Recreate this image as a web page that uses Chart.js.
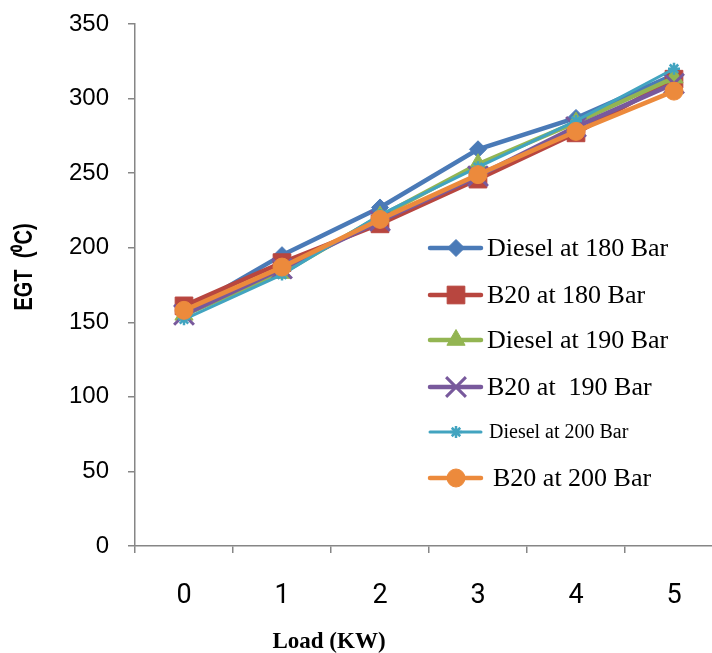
<!DOCTYPE html>
<html>
<head>
<meta charset="utf-8">
<script src="https://cdn.jsdelivr.net/npm/chart.js@4/dist/chart.umd.min.js"></script>
<style>
html,body{margin:0;padding:0;background:#fff;overflow:hidden;width:712px;height:653px;}
#wrap{position:absolute;left:0;top:0;width:740px;height:653px;}
</style>
</head>
<body>
<div id="wrap"><canvas id="c" width="740" height="653"></canvas></div>
<script>
const categories = ['0','1','2','3','4','5'];
const yTicks = [0,50,100,150,200,250,300,350];
const labels = ['Diesel at 180 Bar','B20 at 180 Bar','Diesel at 190 Bar','B20 at  190 Bar','Diesel at 200 Bar','B20 at 200 Bar'];
const diesel180 = [157,195,227,266,287,316];
const b20_180   = [161,190,216,246,277,313];
const diesel190 = [155,183,221,256,284,314];
const b20_190   = [155,186,218,248,281,310];
const diesel200 = [152,182,222,254,285,320];
const b20_200   = [158,187,219,249,278,305];

const series = [diesel180,b20_180,diesel190,b20_190,diesel200,b20_200];
const colors = ['#4A7AB7','#B8463F','#93B552','#78599C','#42A4C0','#EC8A3C'];
const styles = ['rectRot','rect','triangle','crossRot','star','circle'];
const radii  = [8.5,12.5,10.5,14,6,9];
const widths = [4.5,4.5,4.5,4.5,3,4.5];
const pbw    = [1,1,1,3,2.5,1];

const datasets = series.map((d,i)=>({
  label: labels[i],
  data: d,
  borderColor: colors[i],
  backgroundColor: colors[i],
  borderWidth: widths[i],
  pointStyle: styles[i],
  pointRadius: radii[i],
  pointHoverRadius: radii[i],
  pointBorderWidth: pbw[i],
  pointBorderColor: colors[i],
  pointBackgroundColor: colors[i],
  tension: 0,
  order: 5 - i,
  clip: false
}));

function drawMarker(ctx, style, r, x, y, color, bw){
  ctx.save();
  ctx.fillStyle = color; ctx.strokeStyle = color; ctx.lineWidth = bw;
  ctx.beginPath();
  if (style==='rectRot'){
    ctx.moveTo(x, y-r); ctx.lineTo(x+r, y); ctx.lineTo(x, y+r); ctx.lineTo(x-r, y); ctx.closePath();
    ctx.fill(); ctx.stroke();
  } else if (style==='rect'){
    const s = Math.SQRT1_2*r; ctx.rect(x-s,y-s,2*s,2*s); ctx.fill(); ctx.stroke();
  } else if (style==='triangle'){
    for (let k=0;k<3;k++){ const a = k*2*Math.PI/3; const px=x+Math.sin(a)*r, py=y-Math.cos(a)*r; if(k===0)ctx.moveTo(px,py); else ctx.lineTo(px,py);} ctx.closePath(); ctx.fill(); ctx.stroke();
  } else if (style==='crossRot'){
    const s = Math.SQRT1_2*r; ctx.moveTo(x-s,y-s); ctx.lineTo(x+s,y+s); ctx.moveTo(x+s,y-s); ctx.lineTo(x-s,y+s); ctx.stroke();
  } else if (style==='star'){
    const s = Math.SQRT1_2*r; ctx.moveTo(x-s,y-s); ctx.lineTo(x+s,y+s); ctx.moveTo(x+s,y-s); ctx.lineTo(x-s,y+s);
    ctx.moveTo(x,y-r); ctx.lineTo(x,y+r); ctx.moveTo(x-r,y); ctx.lineTo(x+r,y); ctx.stroke();
  } else {
    ctx.arc(x,y,r,0,Math.PI*2); ctx.fill(); ctx.stroke();
  }
  ctx.restore();
}

const legendPlugin = {
  id:'customLegend',
  afterDraw(chart){
    const ctx = chart.ctx;
    const rowsY = [248,295,340,387,432,478];
    const textX = [487,487,487,487,489,493];
    const fs = [26,26,26,26,20,26];
    chart.data.datasets.forEach((ds,i)=>{
      const y = rowsY[i];
      ctx.save();
      ctx.strokeStyle = ds.borderColor; ctx.lineWidth = ds.borderWidth; ctx.lineCap='round';
      ctx.beginPath(); ctx.moveTo(430,y); ctx.lineTo(481,y); ctx.stroke();
      ctx.restore();
      drawMarker(ctx, ds.pointStyle, ds.pointRadius, 456, y, ds.borderColor, ds.pointBorderWidth);
      ctx.save();
      ctx.fillStyle='#000'; ctx.font = fs[i]+'px "Liberation Serif", "Times New Roman", serif';
      ctx.textBaseline='middle'; ctx.textAlign='left';
      ctx.fillText(ds.label.trim(), textX[i], y+1);
      ctx.restore();
    });
    // axis titles
    ctx.save();
    ctx.fillStyle='#000';
    ctx.font='bold 23px "Liberation Serif", "Times New Roman", serif';
    ctx.textAlign='center'; ctx.textBaseline='middle';
    ctx.fillText('Load (KW)', 329, 642);
    ctx.translate(25, 267); ctx.rotate(-Math.PI/2); ctx.scale(0.8, 1);
    ctx.font='bold 25px "Liberation Sans", Arial, sans-serif';
    ctx.fillText('EGT  (\u2070C)', 0, 0);
    ctx.restore();
  }
};

new Chart(document.getElementById('c'), {
  type:'line',
  data:{ labels: categories, datasets },
  options:{
    responsive:false,
    animation:false,
    events:[],
    layout:{ padding:{ left:0, right:12, top:24, bottom:0 } },
    plugins:{ legend:{display:false}, tooltip:{enabled:false}, title:{display:false} },
    scales:{
      x:{
        type:'category',
        offset:true,
        grid:{ offset:true, drawOnChartArea:false, drawTicks:true, tickLength:7, color:'#868686', lineWidth:1.5 },
        border:{ display:true, color:'#868686', width:1.5 },
        ticks:{ color:'#000', font:{ family:'"Liberation Sans Narrow", Roboto, sans-serif', size:27 }, padding:27, maxRotation:0 },
        afterFit(s){ s.height = 107; s.paddingLeft = 0; s.paddingRight = 0; }
      },
      y:{
        min:0, max:350,
        afterBuildTicks(s){ s.ticks = yTicks.map(v=>({value:v})); },
        grid:{ drawOnChartArea:false, drawTicks:true, tickLength:7, color:'#868686', lineWidth:1.5 },
        border:{ display:true, color:'#868686', width:1.5 },
        ticks:{ color:'#000', font:{ family:'"Liberation Sans", Arial, sans-serif', size:24 }, padding:19 },
        afterFit(s){ s.width = 135; s.paddingTop = 0; s.paddingBottom = 0; }
      }
    }
  },
  plugins:[legendPlugin]
});
</script>
</body>
</html>
